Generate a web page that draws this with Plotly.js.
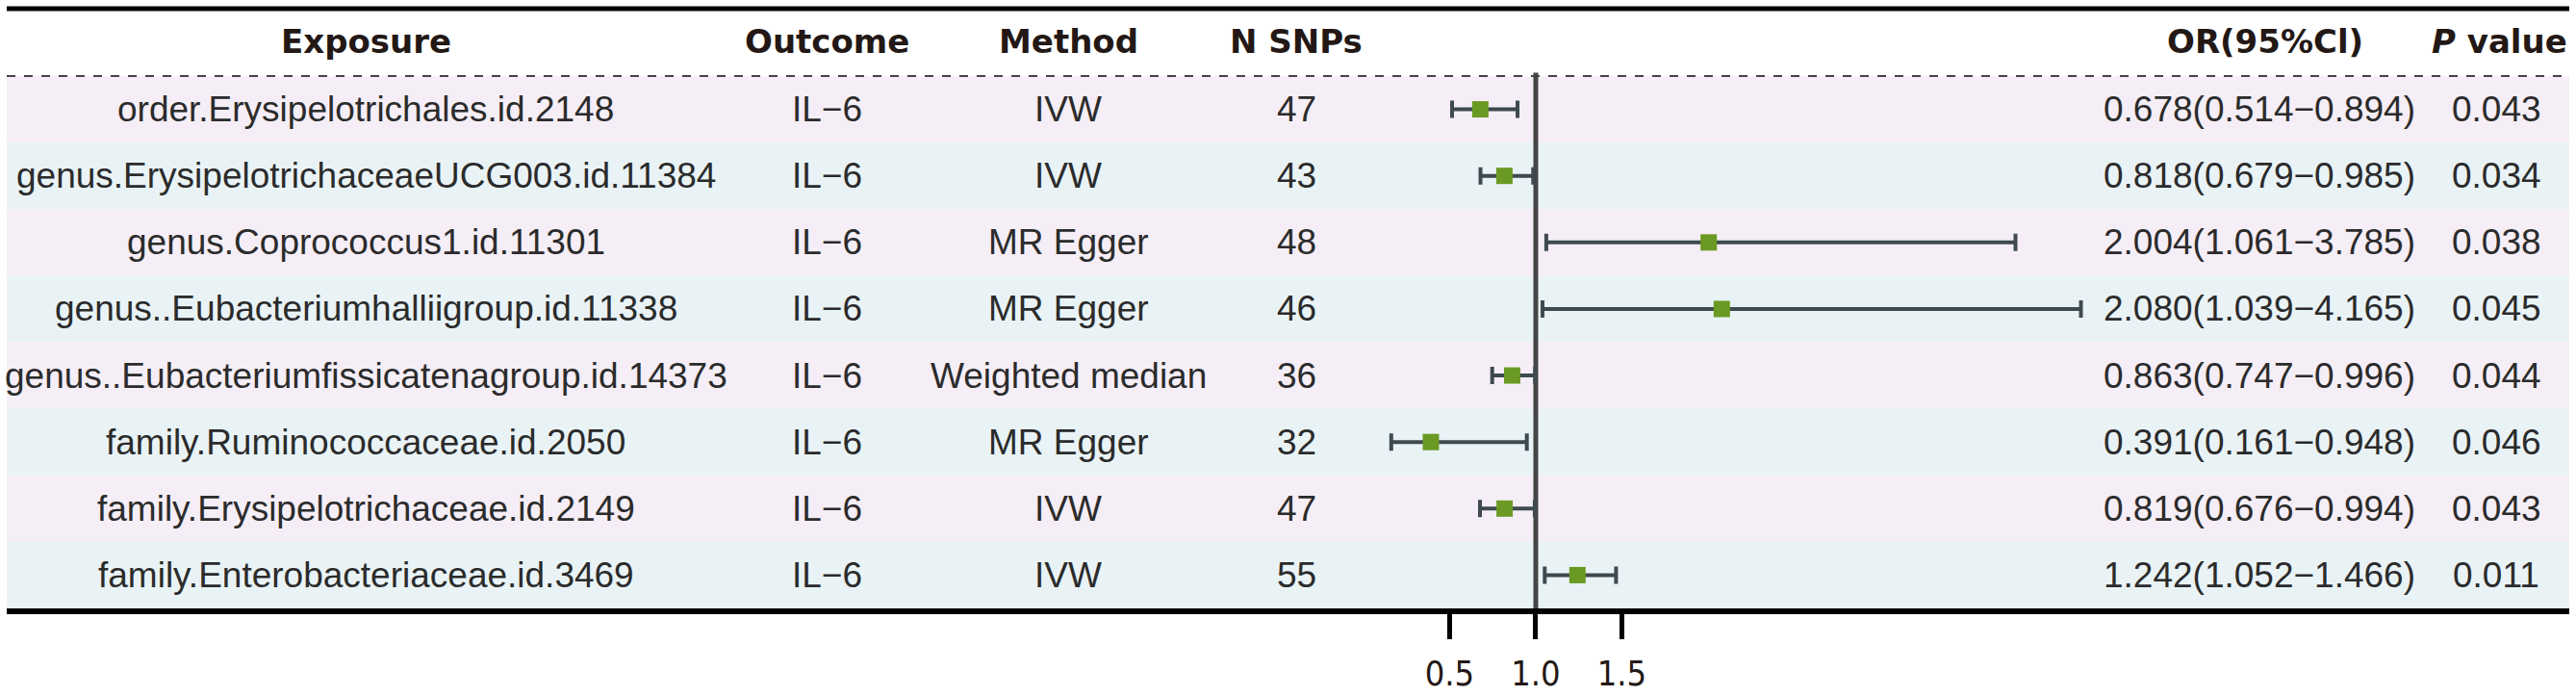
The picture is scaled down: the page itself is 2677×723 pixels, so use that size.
<!DOCTYPE html>
<html>
<head>
<meta charset="utf-8">
<script src="https://cdn.plot.ly/plotly-3.0.1.min.js"></script>
<style>html,body{margin:0;padding:0;background:#fff;}#chart{width:2677px;height:723px;}</style>
</head>
<body>
<div id="chart"></div>
<script>
// ---- data ----
const exposures = [
  "order.Erysipelotrichales.id.2148",
  "genus.ErysipelotrichaceaeUCG003.id.11384",
  "genus.Coprococcus1.id.11301",
  "genus..Eubacteriumhalliigroup.id.11338",
  "genus..Eubacteriumfissicatenagroup.id.14373",
  "family.Ruminococcaceae.id.2050",
  "family.Erysipelotrichaceae.id.2149",
  "family.Enterobacteriaceae.id.3469"
];
const outcomes = ["IL\u22126","IL\u22126","IL\u22126","IL\u22126","IL\u22126","IL\u22126","IL\u22126","IL\u22126"];
const methods = ["IVW","IVW","MR Egger","MR Egger","Weighted median","MR Egger","IVW","IVW"];
const nSNPs = [47, 43, 48, 46, 36, 32, 47, 55];
const orVals = [0.678, 0.818, 2.004, 2.080, 0.863, 0.391, 0.819, 1.242];
const ciLow  = [0.514, 0.679, 1.061, 1.039, 0.747, 0.161, 0.676, 1.052];
const ciHigh = [0.894, 0.985, 3.785, 4.165, 0.996, 0.948, 0.994, 1.466];
const pValues = ["0.043","0.034","0.038","0.045","0.044","0.046","0.043","0.011"];
const headers = ["Exposure","Outcome","Method","N SNPs","OR(95%Cl)","<i>P</i> value"];
const tickVals = [0.5, 1.0, 1.5];
const tickText = ["0.5","1.0","1.5"];

// ---- styles ----
const rows = exposures.map((_, i) => i);
const bandColors = ["#f5eef6", "#e9f3f6"];
const textFont = {family: "Liberation Sans, Arial, sans-serif", size: 37, color: "#2b2b2b"};
const headFont = {family: "DejaVu Sans, sans-serif", size: 34, color: "#231815", weight: 700};
const colX = {exp: 0.1401, out: 0.320, met: 0.4142, n: 0.5032, orR: 0.9407, p: 0.9715, orH: 0.8813, pH: 0.9726};
const headerY = -1.02;

const orText = orVals.map((v, i) => v.toFixed(3) + "(" + ciLow[i].toFixed(3) + "\u2212" + ciHigh[i].toFixed(3) + ")");

const trace = {
  type: "scatter", mode: "markers",
  x: orVals, y: rows,
  marker: {symbol: "square", size: 17, color: "#6a9a23"},
  error_x: {
    type: "data", symmetric: false,
    array: orVals.map((v, i) => ciHigh[i] - v),
    arrayminus: orVals.map((v, i) => v - ciLow[i]),
    color: "#3e4a4f", thickness: 4, width: 9
  },
  hoverinfo: "skip", showlegend: false
};

const shapes = [];
rows.forEach(i => {
  shapes.push({type: "rect", xref: "paper", yref: "y", x0: 0, x1: 1, y0: i - 0.5, y1: i + 0.5,
    fillcolor: bandColors[i % 2], line: {width: 0}, layer: "below"});
});
shapes.push({type: "line", xref: "paper", yref: "y", x0: 0, x1: 1, y0: -0.5, y1: -0.5,
  line: {color: "#444", width: 2, dash: "dash"}, layer: "below"});
shapes.push({type: "line", xref: "paper", yref: "y", x0: 0, x1: 1, y0: -1.513, y1: -1.513,
  line: {color: "#000", width: 5}, layer: "above"});
shapes.push({type: "line", xref: "x", yref: "y", x0: 1, x1: 1, y0: -0.55, y1: 7.5,
  line: {color: "#454545", width: 5}, layer: "below"});

const annotations = [];
function ann(x, y, text, font, xanchor) {
  annotations.push({xref: "paper", yref: "y", x: x, y: y, text: text, font: font,
    showarrow: false, xanchor: xanchor || "center", yanchor: "middle"});
}
ann(colX.exp, headerY, headers[0], headFont);
ann(colX.out, headerY, headers[1], headFont);
ann(colX.met, headerY, headers[2], headFont);
ann(colX.n, headerY, headers[3], headFont);
ann(colX.orH, headerY, headers[4], headFont);
ann(colX.pH, headerY, headers[5], headFont);
rows.forEach(i => {
  ann(colX.exp, i, exposures[i], textFont);
  ann(colX.out, i, outcomes[i], textFont);
  ann(colX.met, i, methods[i], textFont);
  ann(colX.n, i, String(nSNPs[i]), textFont);
  ann(colX.orR, i, orText[i], textFont, "right");
  ann(colX.p, i, pValues[i], textFont);
});

const layout = {
  width: 2677, height: 723,
  margin: {l: 7, r: 7, t: 0, b: 91, pad: 0},
  paper_bgcolor: "#ffffff", plot_bgcolor: "#ffffff",
  showlegend: false,
  xaxis: {
    range: [-7.877, 7.0], showgrid: false, zeroline: false,
    showline: true, linecolor: "#000", linewidth: 6,
    ticks: "outside", ticklen: 26, tickwidth: 5, tickcolor: "#000",
    tickvals: tickVals, ticktext: tickText, ticklabelstandoff: 5,
    tickfont: {family: "DejaVu Sans Condensed, DejaVu Sans, sans-serif", size: 36, color: "#231815"},
    fixedrange: true
  },
  yaxis: {range: [7.5, -1.643], visible: false, fixedrange: true},
  shapes: shapes,
  annotations: annotations
};

Plotly.newPlot("chart", [trace], layout, {staticPlot: true, displayModeBar: false});
</script>
</body>
</html>
